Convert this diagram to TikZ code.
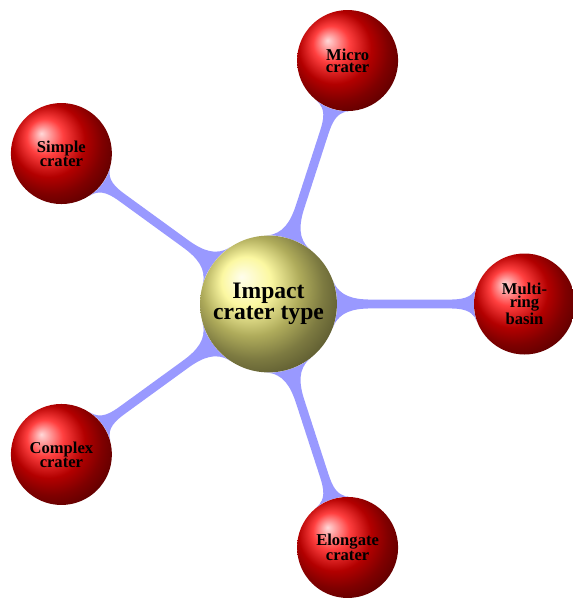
\documentclass[tikz,border=0pt]{standalone}
\usepackage{fontspec}
\setmainfont{Liberation Serif}
\usetikzlibrary{mindmap,backgrounds}
\definecolor{rootball}{RGB}{250,245,130}
\begin{document}
\begin{tikzpicture}[
  crater/.style={circle, inner sep=0pt, minimum size=2.525cm, ball color=red, align=center, font=\bfseries\fontsize{11.8}{8.3}\selectfont},
  rootcrater/.style={circle, inner sep=0pt, minimum size=3.42cm, ball color=rootball, align=center, font=\bfseries\fontsize{16.8}{14.5}\selectfont},
  bar/.style={circle connection bar switch color=from (blue!40) to (blue!40)}
]
\useasboundingbox (-6.7125,-7.375) rectangle (7.6125,7.6);

\node[rootcrater] (root) at (0,0) {Impact\\crater type};

\node[crater] (micro) at (72:6.4) {Micro\\crater};
\node[crater] (simple) at (144:6.4) {Simple\\crater};
\node[crater] (complex) at (-144:6.4) {Complex\\crater};
\node[crater] (elongate) at (-72:6.4) {Elongate\\crater};
\node[crater] (multiring) at (0:6.4) {Multi-\\ring\\basin};

\begin{pgfonlayer}{background}
\path (root) to[bar] (micro);
\path (root) to[bar] (simple);
\path (root) to[bar] (complex);
\path (root) to[bar] (elongate);
\path (root) to[bar] (multiring);
\end{pgfonlayer}
\end{tikzpicture}
\end{document}
